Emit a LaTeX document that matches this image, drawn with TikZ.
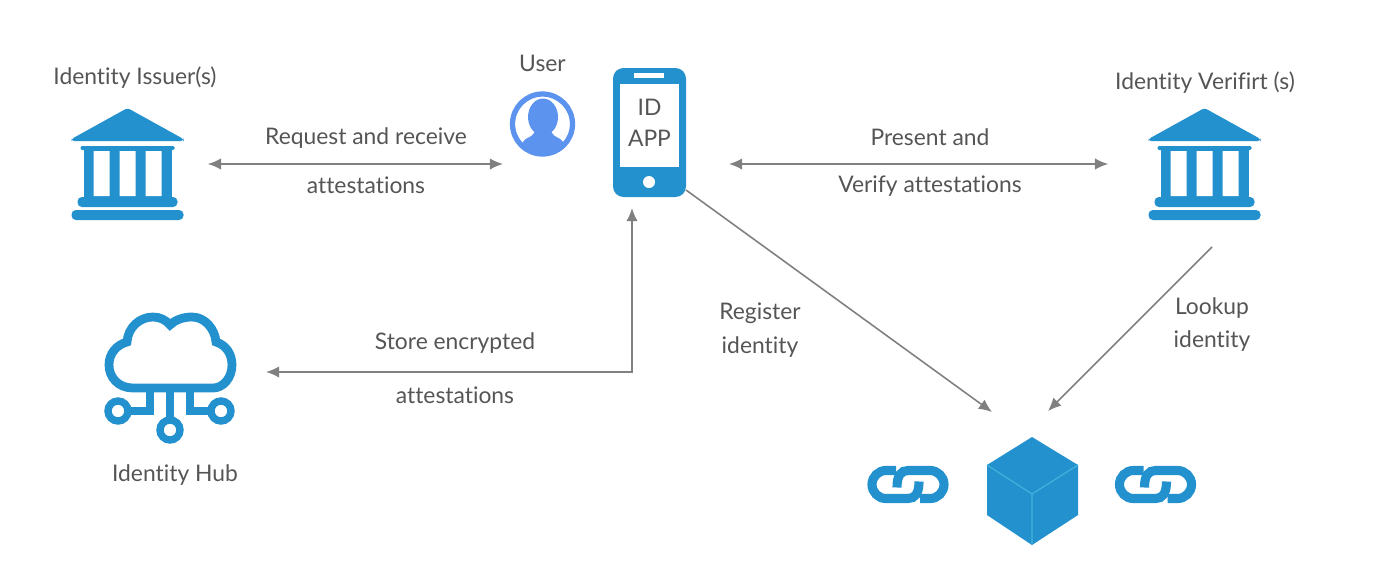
\documentclass[tikz,border=0pt]{standalone}
\usepackage{fontspec}
\setmainfont[Ligatures=NoCommon]{Lato}
\usepackage{tikz}
\usetikzlibrary{positioning, arrows.meta}
\definecolor{iconblue}{HTML}{2391CE}
\definecolor{userblue}{HTML}{5B93EE}
\definecolor{edgeblue}{HTML}{3FB2DA}
\definecolor{txtgrey}{HTML}{555555}
\definecolor{linegrey}{HTML}{808080}

\begin{document}
\begin{tikzpicture}[
  x=0.02cm, y=-0.02cm,
  font=\fontsize{13}{16}\selectfont, text=txtgrey,
  lbl/.style={inner sep=0pt, align=center},
  conn/.style={draw=linegrey, line width=0.9pt, -{Latex[length=7.5pt,width=6.5pt]}},
  connb/.style={conn, {Latex[length=7.5pt,width=6.5pt]}-{Latex[length=7.5pt,width=6.5pt]}},
  icon/.style={inner sep=0pt, minimum width=#1*0.02cm},
  bank/.pic={
    \fill[iconblue, rounded corners=1.5pt] (0,-56) -- (56,-25) -- (56,-23) -- (-56,-23) -- (-56,-25) -- cycle;
    \fill[iconblue, rounded corners=0.8pt] (-47,-18) rectangle (47,-14);
    \fill[iconblue] (-44,-15) rectangle (44,34);
    \fill[white] (-34,-13) rectangle (-18,32) (-8,-13) rectangle (8,32) (18,-13) rectangle (34,32);
    \fill[iconblue, rounded corners=2.5pt] (-50,33) rectangle (50,43);
    \fill[iconblue, rounded corners=2.5pt] (-56,46) rectangle (56,56);
  },
  chain/.pic={
    \draw[iconblue, line width=5.2pt] (-12,-14) -- (-22,-14) arc[start angle=-90, end angle=-270, radius=14] -- (0,14)
      .. controls (7,14) and (11,9) .. (11,-3);
    \draw[iconblue, line width=5.2pt] (12,14) -- (22,14) arc[start angle=90, end angle=-90, radius=14] -- (0,-14)
      .. controls (-7,-14) and (-11,-9) .. (-11,3);
  },
]
  \useasboundingbox (0,0) rectangle (1400,579);

  % Icon places
  \node[icon=112] (issuer) at (127.5,164) {};
  \node[icon=112] (verifier) at (1204.5,164) {};
  \node[icon=64] (user) at (542.5,124) {};
  \node[icon=73, minimum height=2.58cm] (phone) at (649.5,132.5) {};
  \node[icon=131] (hub) at (170.5,372) {};
  \node[icon=91, minimum height=2.16cm] (block) at (1032.5,491) {};
  \coordinate (userEnd) at (503,164);
  \coordinate (phoneLeft) at (729,164);
  \coordinate (phoneUp) at (632,208);
  \coordinate (storeTurn) at (632,372);
  \coordinate (hubEnd) at (266,372);
  \coordinate (regStart) at (686,190);
  \coordinate (regEnd) at (992,412);
  \coordinate (lookStart) at (1212,247);
  \coordinate (lookEnd) at (1048,411);

  \pic at (issuer) {bank};
  \pic at (verifier) {bank};
  \pic at (908,484.5) {chain};
  \pic at (1155.5,484.5) {chain};

  % User
  \begin{scope}
    \clip (user) circle (32);
    \fill[userblue, rounded corners=4pt] (521,141) -- (536,134) -- (536,128) -- (550,128) -- (550,134) -- (565,141) -- (565,160) -- (521,160) -- cycle;
    \fill[userblue] (543,117) ellipse (15 and 18.5);
  \end{scope}
  \draw[userblue, line width=3pt] (user) circle (30);

  % Phone
  \fill[iconblue, rounded corners=6pt] (613,68) rectangle (686,197);
  \fill[white] (620,84) rectangle (679,167);
  \fill[white] (634,73) rectangle (664,78);
  \fill[white] (649,182) circle (6);
  \node[lbl, font=\fontsize{13}{17.6}\selectfont] (apptxt) at (649.5,123) {ID\\APP};

  % Cloud
  \draw[iconblue, line width=5pt] (133,388) .. controls (118,388) and (109,377) .. (109,365)
    .. controls (109,354) and (116,345) .. (127,342) .. controls (128,327) and (140,317) .. (153,317)
    .. controls (160,317) and (166,320) .. (170,325) .. controls (175,320) and (183,317) .. (192,317)
    .. controls (205,317) and (215,329) .. (216,342) .. controls (226,345) and (232,354) .. (232,365)
    .. controls (232,378) and (223,388) .. (213,388) -- cycle;
  \draw[iconblue, line width=4.2pt] (150,388) |- (128,411) (190,388) |- (211,411) (170,388) -- (170,420);
  \draw[iconblue, line width=4.2pt] (118,411) circle (10) (221,411) circle (10) (170,430) circle (10);

  % Block
  \fill[iconblue] (1032,437) -- (1078,465) -- (1078,515) -- (1032,545) -- (987,515) -- (987,465) -- cycle;
  \draw[edgeblue, line width=0.7pt] (987,465) -- (1032,494) -- (1078,465) (1032,494) -- (1032,545);

  % Labels
  \node[lbl] (issuerlbl) at (135,78) {Identity Issuer(s)};
  \node[lbl] (userlbl) at (542.5,63) {User};
  \node[lbl] (verifierlbl) at (1205,82.5) {Identity Verifirt (s)};
  \node[lbl] (hublbl) at (175,475) {Identity Hub};
  \node[lbl] (req) at (366,138) {Request and receive};
  \node[lbl] (reqb) at (366,185) {attestations};
  \node[lbl] (pres) at (930,137) {Present and};
  \node[lbl] (presb) at (930,186) {Verify attestations};
  \node[lbl] (store) at (455,343) {Store encrypted};
  \node[lbl] (storeb) at (455,395) {attestations};
  \node[lbl] (reg) at (760,330) {Register\\[3pt]identity};
  \node[lbl] (look) at (1212,324.5) {Lookup\\[2.5pt]identity};

  % Connectors
  \draw[connb, shorten <=24*0.02cm] (issuer.east) -- (userEnd);
  \draw[connb, shorten >=40*0.02cm] (phoneLeft) -- (verifier.west);
  \draw[connb] (phoneUp) -- (storeTurn) -- (hubEnd);
  \draw[conn] (regStart) -- (regEnd);
  \draw[conn] (lookStart) -- (lookEnd);
\end{tikzpicture}
\end{document}
